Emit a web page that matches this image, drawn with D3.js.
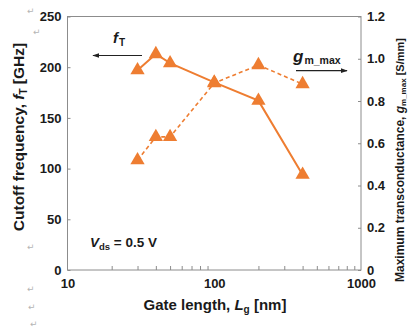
<!DOCTYPE html>
<html>
<head>
<meta charset="utf-8">
<script src="https://cdn.jsdelivr.net/npm/d3@7"></script>
<style>
  html, body { margin: 0; padding: 0; background: #fff; }
  svg { display: block; font-family: "Liberation Sans", Arial, sans-serif; }
</style>
</head>
<body>
<svg id="chart" width="411" height="332"></svg>
<script>
// ---- data ----
const gateLengths = [30, 40, 50, 100, 200, 400];            // nm
const fT = [197, 213, 204, 185, 167, 94];                  // GHz (left axis)
const gmMax = [0.52, 0.63, 0.63, 0.885, 0.97, 0.88];       // S/mm (right axis)
const xMajorTicks = [10, 100, 1000];
const xMinorTicks = [20, 30, 40, 50, 60, 70, 80, 90, 200, 300, 400, 500, 600, 700, 800, 900];
const leftTicks = [0, 50, 100, 150, 200, 250];
const rightTicks = [0, 0.2, 0.4, 0.6, 0.8, 1.0, 1.2];

// ---- layout ----
const W = 411, H = 332;
const margin = { top: 16.5, right: 50, bottom: 62, left: 67.5 };
const orange = "#EE7D31";
const axisColor = "#8c8c8c";
const textColor = "#1a1a1a";

const svg = d3.select("#chart");

const x = d3.scaleLog().domain([10, 1000]).range([margin.left, W - margin.right]);
const yL = d3.scaleLinear().domain([0, 250]).range([H - margin.bottom, margin.top]);
const yR = d3.scaleLinear().domain([0, 1.2]).range([H - margin.bottom, margin.top]);

// ---- stray return symbols (document artefacts) ----
const returnMarks = [[27, 14], [33, 35], [27, 250], [27, 292], [28, 310], [30, 327]];
svg.append("g").selectAll("text").data(returnMarks).enter().append("text")
  .attr("x", d => d[0]).attr("y", d => d[1])
  .attr("font-family", "DejaVu Sans")
  .attr("font-size", 9).attr("fill", "#b5b5b5")
  .text("\u21B5");

// ---- frame ----
svg.append("rect")
  .attr("x", margin.left).attr("y", margin.top)
  .attr("width", W - margin.right - margin.left)
  .attr("height", H - margin.bottom - margin.top)
  .attr("fill", "none").attr("stroke", axisColor).attr("stroke-width", 1);

function styleAxis(g) {
  g.select(".domain").remove();
  g.selectAll(".tick line").attr("stroke", axisColor);
  g.selectAll(".tick text")
    .attr("fill", textColor)
    .attr("font-size", 13)
    .attr("font-weight", "bold")
    .attr("font-family", "Liberation Sans, Arial, sans-serif");
}

// bottom axis: minor ticks (no labels) + major labels
svg.append("g")
  .attr("transform", `translate(0,${H - margin.bottom})`)
  .call(d3.axisBottom(x).tickValues(xMinorTicks).tickSize(-4).tickFormat(""))
  .call(styleAxis);
svg.append("g")
  .attr("transform", `translate(0,${H - margin.bottom})`)
  .call(d3.axisBottom(x).tickValues(xMajorTicks).tickSize(0).tickPadding(9).tickFormat(d3.format("d")))
  .call(styleAxis);

// left axis
svg.append("g")
  .attr("transform", `translate(${margin.left},0)`)
  .call(d3.axisLeft(yL).tickValues(leftTicks).tickSize(-3).tickPadding(6).tickFormat(d3.format("d")))
  .call(styleAxis);

// right axis
svg.append("g")
  .attr("transform", `translate(${W - margin.right},0)`)
  .call(d3.axisRight(yR).tickValues(rightTicks).tickSize(-3).tickPadding(6)
    .tickFormat(d => d === 0 ? "0" : d3.format(".1f")(d)))
  .call(styleAxis);

// ---- series ----
const ptsF = gateLengths.map((g, i) => [g, fT[i]]);
const ptsG = gateLengths.map((g, i) => [g, gmMax[i]]);

svg.append("path").datum(ptsF)
  .attr("fill", "none").attr("stroke", orange).attr("stroke-width", 2)
  .attr("d", d3.line().x(d => x(d[0])).y(d => yL(d[1])));

svg.append("path").datum(ptsG)
  .attr("fill", "none").attr("stroke", orange).attr("stroke-width", 1.6)
  .attr("stroke-dasharray", "4,3")
  .attr("d", d3.line().x(d => x(d[0])).y(d => yR(d[1])));

const tri = d3.symbol().type(d3.symbolTriangle).size(88);
svg.append("g").selectAll("path").data(ptsF).enter().append("path")
  .attr("d", tri).attr("fill", orange)
  .attr("transform", d => `translate(${x(d[0])},${yL(d[1])})`);
svg.append("g").selectAll("path").data(ptsG).enter().append("path")
  .attr("d", tri).attr("fill", orange)
  .attr("transform", d => `translate(${x(d[0])},${yR(d[1])})`);

// ---- annotations ----
const defs = svg.append("defs");
defs.append("marker").attr("id", "ah")
  .attr("viewBox", "0 0 10 10").attr("refX", 9).attr("refY", 5)
  .attr("markerWidth", 6).attr("markerHeight", 6).attr("orient", "auto")
  .append("path").attr("d", "M0,1.5 L10,5 L0,8.5 Z").attr("fill", "#222");

// fT label + arrow (left)
const tF = svg.append("text").attr("x", 113).attr("y", 43)
  .attr("font-weight", "bold").attr("fill", textColor);
tF.append("tspan").attr("font-style", "italic").attr("font-size", 15).text("f");
tF.append("tspan").attr("font-size", 10).attr("dx", 1).attr("dy", 3).text("T");
svg.append("line").attr("x1", 142).attr("y1", 55.5).attr("x2", 93).attr("y2", 55.5)
  .attr("stroke", "#222").attr("stroke-width", 1.2).attr("marker-end", "url(#ah)");

// gm label + arrow (right)
const tG = svg.append("text").attr("x", 293).attr("y", 62)
  .attr("font-weight", "bold").attr("fill", textColor);
tG.append("tspan").attr("font-style", "italic").attr("font-size", 17).text("g");
tG.append("tspan").attr("font-size", 10.5).attr("dx", 1).attr("dy", 1.5).text("m_max");
svg.append("line").attr("x1", 296).attr("y1", 70.7).attr("x2", 347).attr("y2", 70.7)
  .attr("stroke", "#222").attr("stroke-width", 1.2).attr("marker-end", "url(#ah)");

// Vds label
const tV = svg.append("text").attr("x", 90).attr("y", 247)
  .attr("font-weight", "bold").attr("fill", textColor).attr("font-size", 13.5);
tV.append("tspan").attr("font-style", "italic").text("V");
tV.append("tspan").attr("font-size", 9.5).attr("dy", 3).text("ds");
tV.append("tspan").attr("dy", -3).text(" = 0.5 V");

// ---- axis titles ----
const tX = svg.append("text").attr("x", 215).attr("y", 309.5)
  .attr("text-anchor", "middle").attr("font-weight", "bold")
  .attr("font-size", 15).attr("fill", textColor);
tX.append("tspan").text("Gate length, ");
tX.append("tspan").attr("font-style", "italic").text("L");
tX.append("tspan").attr("font-size", 10).attr("dy", 3).text("g");
tX.append("tspan").attr("dy", -3).text(" [nm]");

const tYL = svg.append("text")
  .attr("transform", "translate(24,137) rotate(-90)")
  .attr("text-anchor", "middle").attr("font-weight", "bold")
  .attr("font-size", 15.5).attr("fill", textColor);
tYL.append("tspan").text("Cutoff frequency, ");
tYL.append("tspan").attr("font-style", "italic").text("f");
tYL.append("tspan").attr("font-size", 10).attr("dy", 3).text("T");
tYL.append("tspan").attr("dy", -3).text(" [GHz]");

const tYR = svg.append("text")
  .attr("transform", "translate(404,160) rotate(-90)")
  .attr("text-anchor", "middle").attr("font-weight", "bold")
  .attr("font-size", 12).attr("fill", textColor);
tYR.append("tspan").text("Maximum transconductance, ");
tYR.append("tspan").attr("font-style", "italic").text("g");
tYR.append("tspan").attr("font-size", 8).attr("dy", 2).text("m_max");
tYR.append("tspan").attr("dy", -2).attr("font-size", 11).text(" [S/mm]");
</script>
</body>
</html>
